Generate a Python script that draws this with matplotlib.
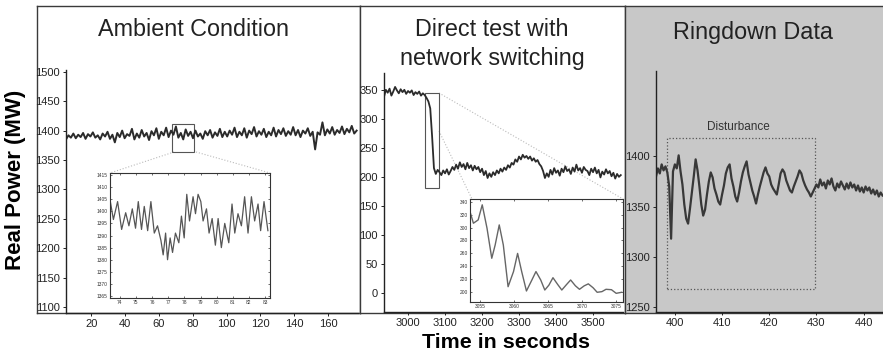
import matplotlib.pyplot as plt
from matplotlib.patches import Rectangle
import numpy as np

plt.rcParams['font.family'] = ['Liberation Sans', 'DejaVu Sans']

# ---- data ----
# ambient condition, ~1.45 s per sample from 5 s to 177 s
amb_start, amb_end = 5, 177
amb_mw = [1385, 1392, 1388, 1395, 1387, 1393, 1389, 1396, 1386, 1394, 1390, 1397, 1388, 1392,
          1385, 1395, 1390, 1398, 1386, 1393, 1380, 1396, 1389, 1400, 1387, 1394, 1391, 1403,
          1385, 1395, 1388, 1401, 1390, 1396, 1384, 1399, 1392, 1404,
          1386, 1398, 1392, 1405, 1389, 1400, 1393, 1407, 1388, 1396, 1385, 1402, 1391, 1398,
          1387, 1400, 1390, 1395, 1386, 1399, 1392, 1401, 1388, 1397, 1391, 1403, 1389, 1398,
          1390, 1400, 1393, 1405, 1389, 1398, 1392, 1404, 1388, 1400, 1394, 1406, 1390, 1399,
          1393, 1403, 1389, 1398, 1392, 1405, 1390, 1401, 1394, 1404, 1391, 1399, 1393, 1406,
          1392, 1401, 1389, 1400, 1395, 1404, 1391, 1398, 1368, 1397, 1393, 1414, 1392, 1402,
          1395, 1406, 1393, 1401, 1396, 1407, 1394, 1403, 1397, 1408, 1395, 1400]
amb_box = (68, 1364, 81, 1411)

zoom_t = [73.40, 73.61, 73.87, 74.12, 74.37, 74.57, 74.78, 74.98, 75.15, 75.35, 75.52, 75.73,
          75.93, 76.14, 76.34, 76.55, 76.69, 76.84, 76.96, 77.12, 77.27, 77.45, 77.66, 77.82,
          77.99, 78.15, 78.32, 78.54, 78.69, 78.85, 79.02, 79.16, 79.37, 79.53, 79.72, 79.92,
          80.09, 80.29, 80.50, 80.75, 80.95, 81.12, 81.32, 81.53, 81.73, 81.94, 82.15, 82.35,
          82.56, 82.72, 82.93, 83.17]
zoom_mw = [1404.8, 1396.6, 1404, 1392.5, 1399.4, 1394, 1401, 1393, 1404, 1392.5, 1402, 1392,
           1404, 1391, 1394, 1388, 1382, 1391, 1380, 1389, 1383, 1391, 1387, 1398,
           1389, 1407, 1396, 1406, 1399, 1407, 1404, 1396, 1401, 1391, 1397, 1386,
           1397, 1385, 1395, 1387, 1403, 1391, 1399, 1394, 1406, 1391, 1406, 1396,
           1403, 1392, 1404, 1392]

# direct test with network switching, 5 s per sample from 2935 s
sw_start, sw_step = 2935, 5
sw_mw = [338, 350, 345, 352, 340, 347, 355, 349, 344, 351, 346, 350, 343, 348, 345, 349, 341,
         346, 343, 347, 340, 344,
         341, 336, 330, 318, 270, 215, 205, 212,
         208, 203, 211, 206, 213, 204, 210, 217,
         212, 221, 214, 225, 217, 222, 213, 224, 215, 220, 211, 219, 213, 217, 208, 214,
         203, 210, 198, 206, 200, 208, 203, 211, 206, 214, 209, 216,
         212, 220, 216, 224, 221, 230, 226, 235, 230, 238, 233, 236, 231, 235, 228, 232, 226, 229,
         222, 218, 210, 198, 206, 200,
         212, 204, 215, 207, 211, 202, 214, 208, 218, 210, 213, 205, 216, 209, 221, 211, 215,
         207, 217, 212, 210, 203, 214, 208, 216, 206, 212, 199, 209, 204, 213, 206, 210, 201,
         207, 197, 205, 200, 203]
sw_box = (3047, 181, 3084, 345)

osc_t = [3053.5, 3054.0, 3054.7, 3055.3, 3056.0, 3056.7, 3057.2, 3057.8, 3058.4, 3059.1,
         3059.9, 3060.5, 3061.1, 3061.8, 3062.6, 3063.2, 3063.9, 3064.5, 3065.1, 3065.7,
         3066.4, 3067.0, 3067.7, 3068.3, 3069.0, 3069.6, 3070.3, 3070.9, 3071.6, 3072.2,
         3072.9, 3073.5, 3074.3, 3075.0, 3075.8]
osc_mw = [324.5, 306.6, 311.7, 335, 299, 252.5, 273, 304, 273, 208.6,
          232, 260, 232, 202, 219, 232, 219, 203.5, 211, 222.5,
          212, 203.5, 212, 219, 210, 204.6, 210, 213, 207, 200,
          201, 204.6, 204, 198.4, 200]

# ringdown data, 0.4 s per sample from 396 s
rd_start, rd_step = 396, 0.4
rd_mw = [1380, 1388, 1383, 1392, 1386, 1390, 1384, 1370, 1318, 1385,
         1392, 1388, 1401, 1385, 1372, 1352, 1338, 1333, 1348, 1364,
         1380, 1397, 1386, 1370, 1352, 1341, 1347, 1362, 1375, 1384,
         1379, 1368, 1362, 1355, 1352, 1362, 1371, 1383, 1389, 1392,
         1378, 1370, 1360, 1355, 1364, 1375, 1384, 1390, 1395, 1382,
         1374, 1366, 1360, 1353, 1362, 1370, 1377, 1384, 1389, 1383,
         1380, 1372, 1368, 1365, 1362, 1372, 1383, 1387, 1384, 1376,
         1371, 1366, 1364, 1370, 1375, 1380, 1386, 1383, 1376, 1371,
         1367, 1364, 1360, 1364, 1368, 1372, 1369, 1377, 1371, 1374,
         1368, 1376, 1372, 1378, 1370, 1366, 1373, 1369, 1375, 1371,
         1367, 1373, 1368, 1374, 1369, 1372, 1366, 1371, 1365, 1369,
         1364, 1370, 1366, 1369, 1363, 1367, 1362, 1366, 1360, 1364, 1361]
rd_box = (398.3, 1268, 429.7, 1418)

W, H = 883, 357


def px_box(x0, y0, x1, y1):
    return [x0 / W, 1 - y1 / H, (x1 - x0) / W, (y1 - y0) / H]


def main_style(ax):
    ax.patch.set_alpha(0)
    ax.spines['top'].set_visible(False)
    ax.spines['right'].set_visible(False)
    for s in ('left', 'bottom'):
        ax.spines[s].set_color('#222222')
        ax.spines[s].set_linewidth(1.0)
    ax.tick_params(labelsize=8, length=2.5, width=0.7, colors='#222222', pad=2)


def inset_style(ax):
    for s in ax.spines.values():
        s.set_color('#333333')
        s.set_linewidth(0.8)
    ax.tick_params(labelsize=3.5, length=1.5, width=0.5, colors='#333333', pad=1.5,
                   direction='in', top=True, right=True)


fig = plt.figure(figsize=(W / 100, H / 100), dpi=100)

# panel frames
for x0, x1, fc in [(37, 360, 'white'), (360, 625, 'white'), (625, 884, '#c8c8c8')]:
    fr = fig.add_axes(px_box(x0, 6, x1, 313))
    fr.set_facecolor(fc)
    fr.set_xticks([])
    fr.set_yticks([])
    for s in fr.spines.values():
        s.set_color('#3a3a3a')
        s.set_linewidth(1.0)

# overlay for connector lines (pixel coordinates)
ov = fig.add_axes([0, 0, 1, 1])
ov.set_xlim(0, W)
ov.set_ylim(H, 0)
ov.axis('off')

# ---- ambient condition ----
ax1 = fig.add_axes(px_box(66, 70, 358, 313))
main_style(ax1)
t1 = np.linspace(amb_start, amb_end, len(amb_mw))
ax1.plot(t1, amb_mw, color='#2b2b2b', lw=1.4)
ax1.set_xlim(5, 177.8)
ax1.set_ylim(1090, 1503)
ax1.set_xticks(range(20, 161, 20))
ax1.set_yticks(range(1100, 1501, 50))
ax1.add_patch(Rectangle((amb_box[0], amb_box[1]), amb_box[2] - amb_box[0],
                        amb_box[3] - amb_box[1], fill=False, ec='#555555', lw=0.8))
ov.plot([174, 110], [152, 173], ls=':', color='#bbbbbb', lw=0.8)
ov.plot([196, 270], [152, 173], ls=':', color='#bbbbbb', lw=0.8)

in1 = fig.add_axes(px_box(110, 173, 270, 298))
inset_style(in1)
in1.plot(zoom_t, zoom_mw, color='#555555', lw=0.9)
in1.set_xlim(73.4, 83.3)
in1.set_ylim(1364.2, 1415.8)
in1.set_xticks(range(74, 84))
in1.set_yticks(range(1365, 1416, 5))

# ---- direct test with network switching ----
ax2 = fig.add_axes(px_box(384, 73, 623, 312))
main_style(ax2)
t2 = sw_start + sw_step * np.arange(len(sw_mw))
ax2.plot(t2, sw_mw, color='#2b2b2b', lw=1.3)
ax2.set_xlim(2935, 3581)
ax2.set_ylim(-33, 379)
ax2.set_xticks(range(3000, 3501, 100))
ax2.set_yticks(range(0, 351, 50))
ax2.add_patch(Rectangle((sw_box[0], sw_box[1]), sw_box[2] - sw_box[0],
                        sw_box[3] - sw_box[1], fill=False, ec='#555555', lw=0.8))
ov.plot([439, 623], [93, 199], ls=':', color='#bbbbbb', lw=0.8)
ov.plot([439, 472], [131, 199], ls=':', color='#bbbbbb', lw=0.8)

in2 = fig.add_axes(px_box(470, 199, 623, 302))
inset_style(in2)
in2.plot(osc_t, osc_mw, color='#666666', lw=1.0)
in2.set_xlim(3053.5, 3076)
in2.set_ylim(185, 344)
in2.set_xticks(range(3055, 3076, 5))
in2.set_yticks(range(200, 341, 20))

# ---- ringdown data ----
ax3 = fig.add_axes(px_box(656, 71, 883, 312))
main_style(ax3)
t3 = rd_start + rd_step * np.arange(len(rd_mw))
ax3.plot(t3, rd_mw, color='#383838', lw=1.6)
ax3.set_xlim(396, 444.1)
ax3.set_ylim(1245, 1485)
ax3.set_xticks(range(400, 441, 10))
ax3.set_yticks(range(1250, 1401, 50))
ax3.add_patch(Rectangle((rd_box[0], rd_box[1]), rd_box[2] - rd_box[0],
                        rd_box[3] - rd_box[1], fill=False, ec='#555555', lw=0.9, ls=':'))
ax3.text(413.5, 1429, 'Disturbance', ha='center', va='center', fontsize=8.5, color='#333333')

# ---- titles and axis labels ----
fig.text(193 / W, 1 - 30 / H, 'Ambient Condition', ha='center', va='center', fontsize=16.8, color='#222222')
fig.text(492 / W, 1 - 30 / H, 'Direct test with', ha='center', va='center', fontsize=16.8, color='#222222')
fig.text(492 / W, 1 - 58 / H, 'network switching', ha='center', va='center', fontsize=16.8, color='#222222')
fig.text(753 / W, 1 - 32 / H, 'Ringdown Data', ha='center', va='center', fontsize=16.8, color='#222222')
fig.text(16 / W, 1 - 180 / H, 'Real Power (MW)', rotation=90, ha='center', va='center',
         fontsize=16, fontweight='bold')
fig.text(506 / W, 1 - 343 / H, 'Time in seconds', ha='center', va='center',
         fontsize=15.4, fontweight='bold')

fig.savefig('out.png', dpi=100)
